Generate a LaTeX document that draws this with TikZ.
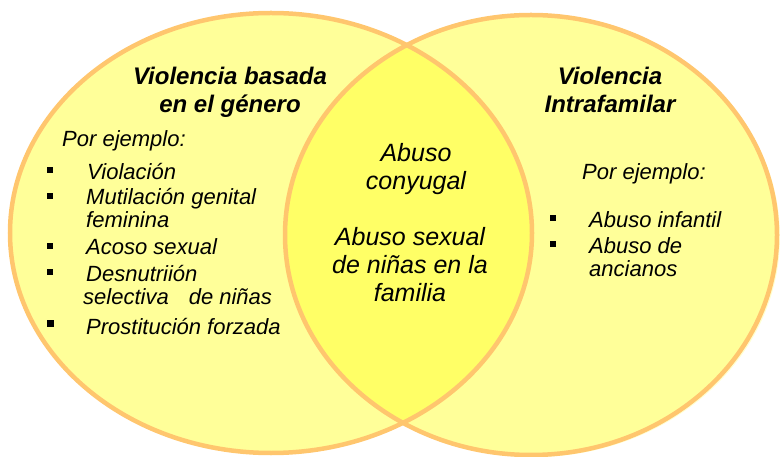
\documentclass[tikz,border=0pt]{standalone}
\usepackage{fontspec}
\setmainfont{Liberation Sans}
\usepackage{tikz}

\definecolor{rimorange}{RGB}{255,198,110}
\definecolor{paleyellow}{RGB}{255,255,153}
\definecolor{lensyellow}{RGB}{255,255,102}

\begin{document}
\begin{tikzpicture}[x=1bp, y=-1bp,
    title/.style={font=\fontsize{24bp}{28bp}\selectfont\bfseries\itshape, align=center, anchor=base, inner sep=0pt},
    lead/.style={font=\fontsize{22bp}{23.5bp}\selectfont\itshape, anchor=base west, inner sep=0pt},
    item/.style={lead, align=left},
    bullet/.style={fill=black, minimum size=6bp, inner sep=0pt},
    middle/.style={font=\fontsize{25bp}{28bp}\selectfont\itshape, align=center, anchor=base, inner sep=0pt}]
    \useasboundingbox (0,0) rectangle (780,457);

    % the two sets
    \fill[paleyellow!45!white] (534,237) ellipse [x radius=246, y radius=220];
    \fill[paleyellow] (271,233) ellipse [x radius=261, y radius=220];
    \fill[paleyellow] (531,235) ellipse [x radius=246, y radius=220];
    \begin{scope}
        \clip (271,233) ellipse [x radius=261, y radius=220];
        \fill[lensyellow] (531,235) ellipse [x radius=246, y radius=220];
    \end{scope}
    \draw[rimorange, line width=4.5bp] (271,233) ellipse [x radius=261, y radius=220];
    \draw[rimorange, line width=4.5bp] (531,235) ellipse [x radius=246, y radius=220];

    % left set (multi-line nodes sit on their last baseline)
    \node[title] (gbvtitle) at (230,113) {Violencia basada\\en el género};
    \node[lead] (gbvlead) at (62,147) {Por ejemplo:};
    \node[bullet] (gbvb1) at (50,170) {};
    \node[item] (rape) at (87,180) {Violación};
    \node[bullet] (gbvb2) at (50,196) {};
    \node[item] (fgm) at (86,228) {Mutilación genital\\feminina};
    \node[bullet] (gbvb3) at (50,246) {};
    \node[item] (harass) at (86,255) {Acoso sexual};
    \node[bullet] (gbvb4) at (50,272) {};
    \node[item] (neglect) at (86,305) {Desnutriión\\\hspace*{-3bp}selectiva\hspace{20bp}de niñas};
    \node[bullet, minimum size=7bp] (gbvb5) at (50,324) {};
    \node[item] (prost) at (86,335) {Prostitución forzada};

    % right set
    \node[title] (dvtitle) at (610,113) {Violencia\\Intrafamilar};
    \node[lead] (dvlead) at (582,180) {Por ejemplo:};
    \node[bullet] (dvb1) at (553,218) {};
    \node[item] (child) at (589,228) {Abuso infantil};
    \node[bullet] (dvb2) at (553,244) {};
    \node[item] (elder) at (589,277) {Abuso de\\ancianos};

    % overlap
    \node[middle] (spouse) at (416,190) {Abuso\\conyugal};
    \node[middle] (incest) at (410,302) {Abuso sexual\\de niñas en la\\familia};
\end{tikzpicture}
\end{document}
